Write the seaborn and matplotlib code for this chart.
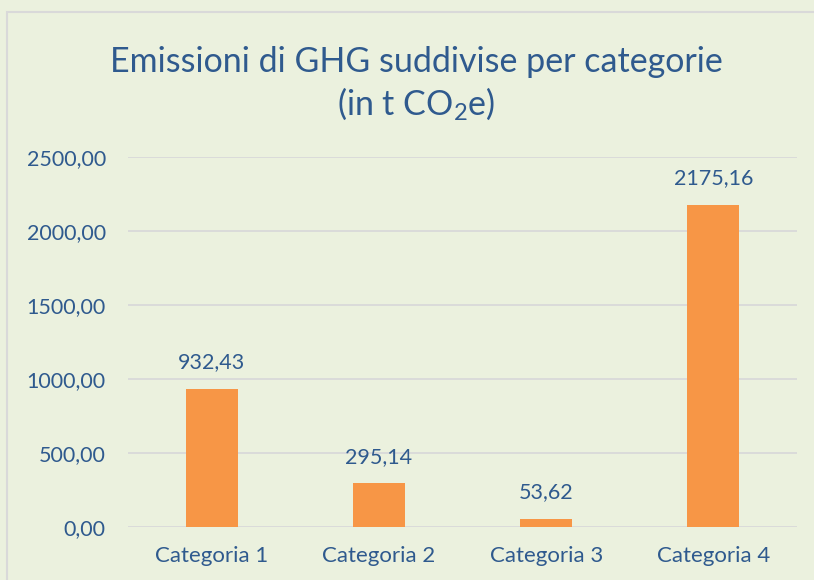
import pandas as pd
import matplotlib.pyplot as plt
import matplotlib.patches as mpatches
import seaborn as sns

# data
categorie = ['Categoria 1', 'Categoria 2', 'Categoria 3', 'Categoria 4']
emissioni = [932.43, 295.14, 53.62, 2175.16]
y_ticks = [0, 500, 1000, 1500, 2000, 2500]

df = pd.DataFrame({'Categoria': categorie, 'Emissioni': emissioni})

bg = '#EBF1DE'
blu = '#2F5A8E'
arancio = '#F79646'

sns.set_theme(style='white')
plt.rcParams['font.family'] = ['Lato', 'DejaVu Sans']
plt.rcParams['mathtext.fontset'] = 'custom'
plt.rcParams['mathtext.rm'] = 'Lato'
plt.rcParams['mathtext.it'] = 'Lato'

fig = plt.figure(figsize=(8.14, 5.8), dpi=100, facecolor=bg)
# chart-area frame
fig.patches.append(mpatches.Rectangle((7 / 814, -0.05), 1.0, 1 - 12 / 580 + 0.05,
                                      transform=fig.transFigure, fill=False,
                                      edgecolor='#D9D9D9', linewidth=1.5))

ax = fig.add_axes([128 / 814, 1 - 527 / 580, (797 - 128) / 814, (527 - 157) / 580])
ax.set_facecolor(bg)

sns.barplot(data=df, x='Categoria', y='Emissioni', color=arancio, width=0.31,
            saturation=1, linewidth=0, ax=ax)

ax.set_ylim(0, 2500)
ax.set_yticks(y_ticks)
ax.set_yticklabels([f'{v:.2f}'.replace('.', ',') for v in y_ticks])
ax.yaxis.grid(True, color='#D9D9D9', linewidth=1.3)
ax.set_axisbelow(True)
for s in ax.spines.values():
    s.set_visible(False)
ax.tick_params(axis='y', length=0, labelsize=15.5, labelcolor=blu, pad=16)
ax.tick_params(axis='x', length=0, labelsize=16, labelcolor=blu, pad=14)
ax.set_xlabel('')
ax.set_ylabel('')

for i, v in enumerate(emissioni):
    ax.annotate(f'{v:.2f}'.replace('.', ','), (i, v), xytext=(0, 12),
                textcoords='offset points', ha='center', va='bottom',
                fontsize=15.5, color=blu)

fig.text(416 / 814, 1 - 62 / 580, 'Emissioni di GHG suddivise per categorie',
         ha='center', va='center', fontsize=24.5, color=blu)
fig.text(416 / 814, 1 - 104 / 580, '(in t CO$_2$e)',
         ha='center', va='center', fontsize=24.5, color=blu)

fig.savefig('out.png', dpi=100, facecolor=bg)
